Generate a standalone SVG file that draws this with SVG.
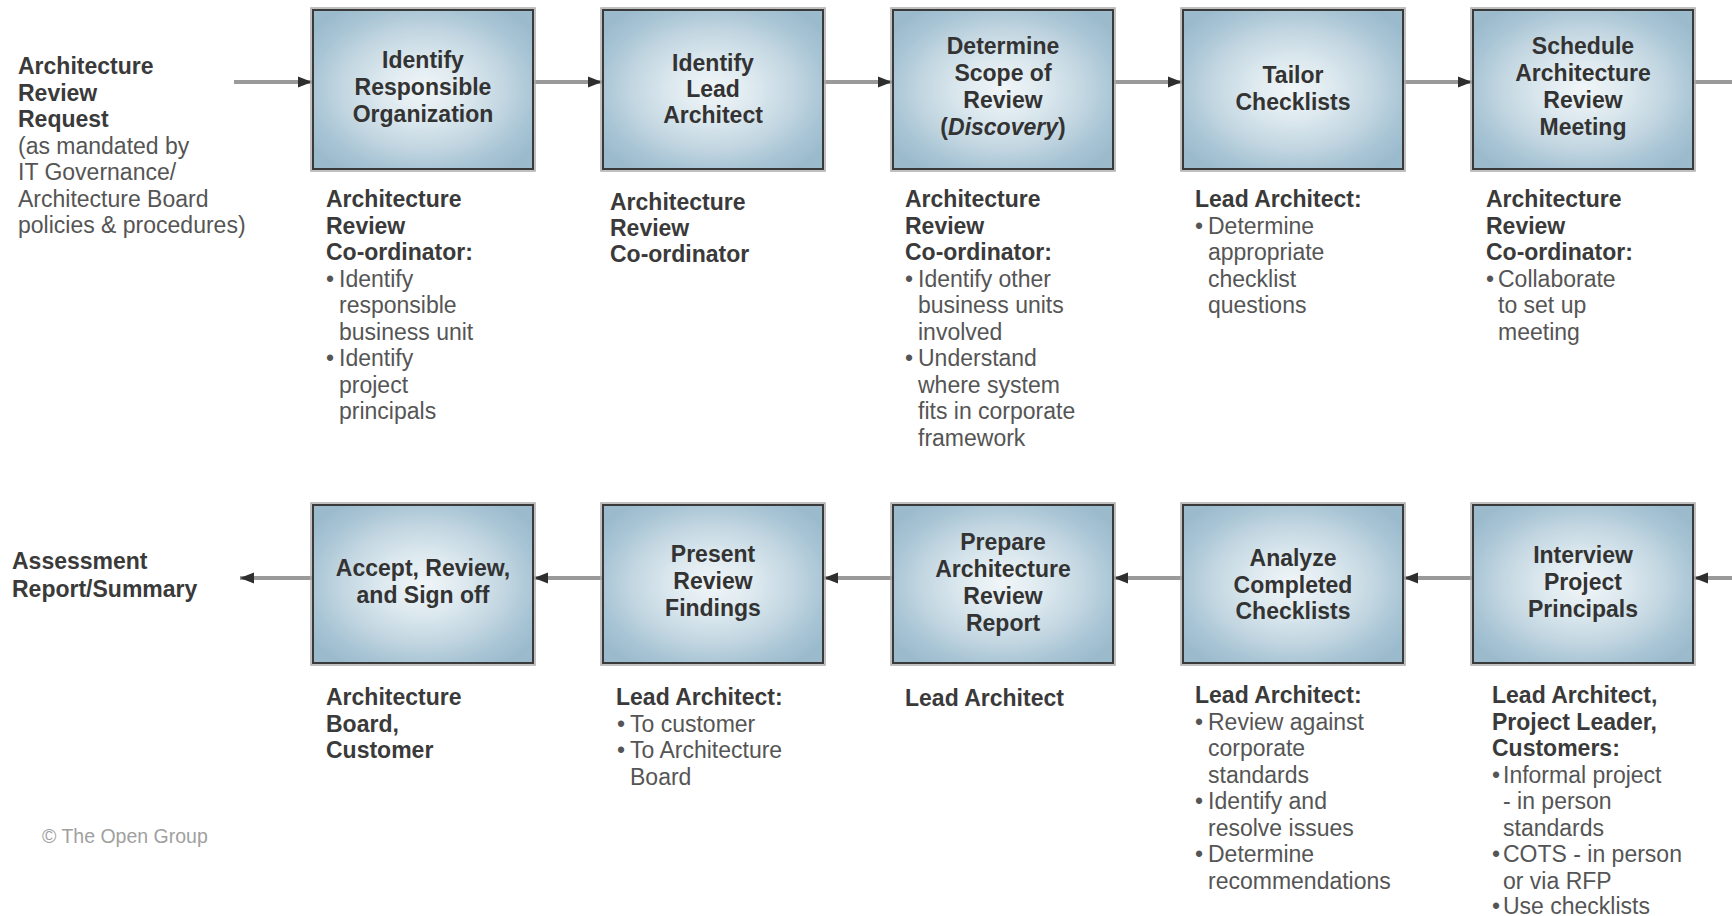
<svg xmlns="http://www.w3.org/2000/svg" width="1732" height="916" viewBox="0 0 1732 916">
<style>
  text { font-family: "Liberation Sans", Arial, sans-serif; font-size: 23px; }
  .t { font-weight: bold; fill: #333; text-anchor: middle; }
  .h { font-weight: bold; fill: #3a3a3a; }
  .r { fill: #555; }
  .outer { fill: none; stroke: #acacac; stroke-width: 1.5; }
  .inner { fill: url(#g); stroke: #3a3a3a; stroke-width: 2; }
  .c { fill: none; stroke: #9a9a9a; stroke-width: 4; }
  .cr { font-size: 19.5px; fill: #a0a0a0; }
</style>
<defs>
  <radialGradient id="g" cx="0.5" cy="0.5" r="0.62">
    <stop offset="0" stop-color="#f1f6f8"/>
    <stop offset="0.3" stop-color="#dde9ef"/>
    <stop offset="0.6" stop-color="#c2d6e1"/>
    <stop offset="0.82" stop-color="#a9c5d5"/>
    <stop offset="1" stop-color="#9bbbcd"/>
  </radialGradient>
  <marker id="a" markerWidth="14" markerHeight="12" refX="14" refY="6" orient="auto" markerUnits="userSpaceOnUse">
    <path d="M0,0.5 L14,6 L0,11.5 Z" fill="#2e2e2e"/>
  </marker>
</defs>

<g id="connectors">
  <path class="c" d="M234,82 H312" marker-end="url(#a)"/>
  <path class="c" d="M534,82 H602" marker-end="url(#a)"/>
  <path class="c" d="M824,82 H892" marker-end="url(#a)"/>
  <path class="c" d="M1114,82 H1182" marker-end="url(#a)"/>
  <path class="c" d="M1404,82 H1472" marker-end="url(#a)"/>
  <path class="c" d="M1694,82 H1732"/>
  <path class="c" d="M1732,578 H1694" marker-end="url(#a)"/>
  <path class="c" d="M1473,578 H1404" marker-end="url(#a)"/>
  <path class="c" d="M1183,578 H1114" marker-end="url(#a)"/>
  <path class="c" d="M893,578 H824" marker-end="url(#a)"/>
  <path class="c" d="M603,578 H534" marker-end="url(#a)"/>
  <path class="c" d="M313,578 H240" marker-end="url(#a)"/>
</g>

<g id="start-label">
  <text class="h"><tspan x="18" y="74">Architecture</tspan><tspan x="18" y="100.5">Review</tspan><tspan x="18" y="127">Request</tspan></text>
  <text class="r"><tspan x="18" y="153.5">(as mandated by</tspan><tspan x="18" y="180">IT Governance/</tspan><tspan x="18" y="206.5">Architecture Board</tspan><tspan x="18" y="233">policies &amp; procedures)</tspan></text>
</g>

<g id="n1">
  <rect class="outer" x="311" y="8" width="224" height="163"/>
  <rect class="inner" x="313" y="10" width="220" height="159"/>
  <text class="t"><tspan x="423" y="68">Identify</tspan><tspan x="423" y="95">Responsible</tspan><tspan x="423" y="122">Organization</tspan></text>
  <text class="h"><tspan x="326" y="207">Architecture</tspan><tspan x="326" y="233.5">Review</tspan><tspan x="326" y="260">Co-ordinator:</tspan></text>
  <text class="r"><tspan x="326" y="286.5">•</tspan><tspan x="339" y="286.5">Identify</tspan><tspan x="339" y="313">responsible</tspan><tspan x="339" y="339.5">business unit</tspan><tspan x="326" y="366">•</tspan><tspan x="339" y="366">Identify</tspan><tspan x="339" y="392.5">project</tspan><tspan x="339" y="419">principals</tspan></text>
</g>

<g id="n2">
  <rect class="outer" x="601" y="8" width="224" height="163"/>
  <rect class="inner" x="603" y="10" width="220" height="159"/>
  <text class="t"><tspan x="713" y="71">Identify</tspan><tspan x="713" y="97">Lead</tspan><tspan x="713" y="123">Architect</tspan></text>
  <text class="h"><tspan x="610" y="210">Architecture</tspan><tspan x="610" y="236">Review</tspan><tspan x="610" y="262">Co-ordinator</tspan></text>
</g>

<g id="n3">
  <rect class="outer" x="891" y="8" width="224" height="163"/>
  <rect class="inner" x="893" y="10" width="220" height="159"/>
  <text class="t"><tspan x="1003" y="54">Determine</tspan><tspan x="1003" y="81">Scope of</tspan><tspan x="1003" y="108">Review</tspan><tspan x="1003" y="135">(<tspan font-style="italic">Discovery</tspan>)</tspan></text>
  <text class="h"><tspan x="905" y="207">Architecture</tspan><tspan x="905" y="233.5">Review</tspan><tspan x="905" y="260">Co-ordinator:</tspan></text>
  <text class="r"><tspan x="905" y="286.5">•</tspan><tspan x="918" y="286.5">Identify other</tspan><tspan x="918" y="313">business units</tspan><tspan x="918" y="339.5">involved</tspan><tspan x="905" y="366">•</tspan><tspan x="918" y="366">Understand</tspan><tspan x="918" y="392.5">where system</tspan><tspan x="918" y="419">fits in corporate</tspan><tspan x="918" y="445.5">framework</tspan></text>
</g>

<g id="n4">
  <rect class="outer" x="1181" y="8" width="224" height="163"/>
  <rect class="inner" x="1183" y="10" width="220" height="159"/>
  <text class="t"><tspan x="1293" y="83">Tailor</tspan><tspan x="1293" y="110">Checklists</tspan></text>
  <text class="h"><tspan x="1195" y="207">Lead Architect:</tspan></text>
  <text class="r"><tspan x="1195" y="233.5">•</tspan><tspan x="1208" y="233.5">Determine</tspan><tspan x="1208" y="260">appropriate</tspan><tspan x="1208" y="286.5">checklist</tspan><tspan x="1208" y="313">questions</tspan></text>
</g>

<g id="n5">
  <rect class="outer" x="1471" y="8" width="224" height="163"/>
  <rect class="inner" x="1473" y="10" width="220" height="159"/>
  <text class="t"><tspan x="1583" y="54">Schedule</tspan><tspan x="1583" y="81">Architecture</tspan><tspan x="1583" y="108">Review</tspan><tspan x="1583" y="135">Meeting</tspan></text>
  <text class="h"><tspan x="1486" y="207">Architecture</tspan><tspan x="1486" y="233.5">Review</tspan><tspan x="1486" y="260">Co-ordinator:</tspan></text>
  <text class="r"><tspan x="1486" y="286.5">•</tspan><tspan x="1498" y="286.5">Collaborate</tspan><tspan x="1498" y="313">to set up</tspan><tspan x="1498" y="339.5">meeting</tspan></text>
</g>

<g id="n6">
  <rect class="outer" x="1471" y="503" width="224" height="162"/>
  <rect class="inner" x="1473" y="505" width="220" height="158"/>
  <text class="t"><tspan x="1583" y="563">Interview</tspan><tspan x="1583" y="590">Project</tspan><tspan x="1583" y="617">Principals</tspan></text>
  <text class="h"><tspan x="1492" y="703">Lead Architect,</tspan><tspan x="1492" y="729.5">Project Leader,</tspan><tspan x="1492" y="756">Customers:</tspan></text>
  <text class="r"><tspan x="1492" y="782.5">•</tspan><tspan x="1503" y="782.5">Informal project</tspan><tspan x="1503" y="809">- in person</tspan><tspan x="1503" y="835.5">standards</tspan><tspan x="1492" y="862">•</tspan><tspan x="1503" y="862">COTS - in person</tspan><tspan x="1503" y="888.5">or via RFP</tspan><tspan x="1492" y="914">•</tspan><tspan x="1503" y="914">Use checklists</tspan></text>
</g>

<g id="n7">
  <rect class="outer" x="1181" y="503" width="224" height="162"/>
  <rect class="inner" x="1183" y="505" width="220" height="158"/>
  <text class="t"><tspan x="1293" y="566">Analyze</tspan><tspan x="1293" y="593">Completed</tspan><tspan x="1293" y="619">Checklists</tspan></text>
  <text class="h"><tspan x="1195" y="703">Lead Architect:</tspan></text>
  <text class="r"><tspan x="1195" y="729.5">•</tspan><tspan x="1208" y="729.5">Review against</tspan><tspan x="1208" y="756">corporate</tspan><tspan x="1208" y="782.5">standards</tspan><tspan x="1195" y="809">•</tspan><tspan x="1208" y="809">Identify and</tspan><tspan x="1208" y="835.5">resolve issues</tspan><tspan x="1195" y="862">•</tspan><tspan x="1208" y="862">Determine</tspan><tspan x="1208" y="888.5">recommendations</tspan></text>
</g>

<g id="n8">
  <rect class="outer" x="891" y="503" width="224" height="162"/>
  <rect class="inner" x="893" y="505" width="220" height="158"/>
  <text class="t"><tspan x="1003" y="550">Prepare</tspan><tspan x="1003" y="577">Architecture</tspan><tspan x="1003" y="604">Review</tspan><tspan x="1003" y="631">Report</tspan></text>
  <text class="h"><tspan x="905" y="706">Lead Architect</tspan></text>
</g>

<g id="n9">
  <rect class="outer" x="601" y="503" width="224" height="162"/>
  <rect class="inner" x="603" y="505" width="220" height="158"/>
  <text class="t"><tspan x="713" y="562">Present</tspan><tspan x="713" y="589">Review</tspan><tspan x="713" y="616">Findings</tspan></text>
  <text class="h"><tspan x="616" y="705">Lead Architect:</tspan></text>
  <text class="r"><tspan x="617" y="731.5">•</tspan><tspan x="630" y="731.5">To customer</tspan><tspan x="617" y="758">•</tspan><tspan x="630" y="758">To Architecture</tspan><tspan x="630" y="784.5">Board</tspan></text>
</g>

<g id="n10">
  <rect class="outer" x="311" y="503" width="224" height="162"/>
  <rect class="inner" x="313" y="505" width="220" height="158"/>
  <text class="t"><tspan x="423" y="576">Accept, Review,</tspan><tspan x="423" y="603">and Sign off</tspan></text>
  <text class="h"><tspan x="326" y="705">Architecture</tspan><tspan x="326" y="731.5">Board,</tspan><tspan x="326" y="758">Customer</tspan></text>
</g>

<g id="end-label">
  <text class="h"><tspan x="12" y="569">Assessment</tspan><tspan x="12" y="597">Report/Summary</tspan></text>
</g>

<text class="cr" x="42" y="843">© The Open Group</text>
</svg>
